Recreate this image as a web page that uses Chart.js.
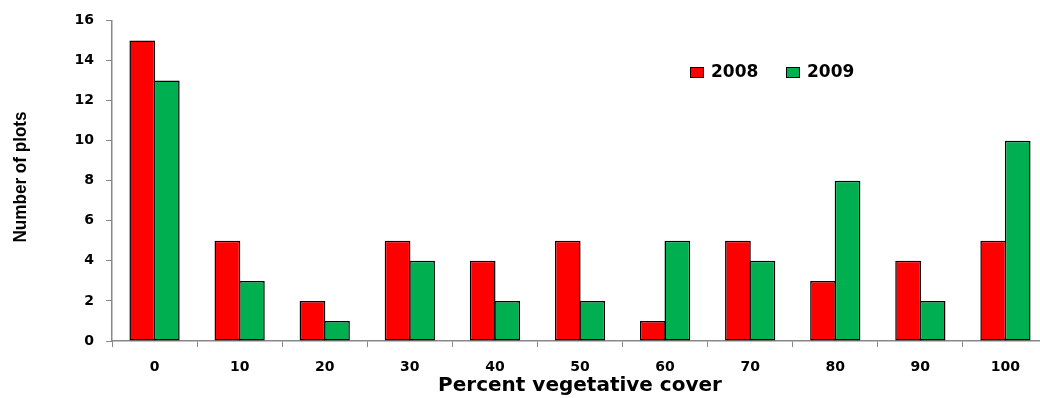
<!DOCTYPE html>
<html>
<head>
<meta charset="utf-8">
<script src="https://cdn.jsdelivr.net/npm/chart.js@4/dist/chart.umd.min.js"></script>
<style>
  html, body { margin: 0; padding: 0; background: #fff; overflow: hidden; }
  #wrap { width: 1048px; height: 398px; }
</style>
</head>
<body>
<div id="wrap"><canvas id="myChart" width="1048" height="398"></canvas></div>
<script>
// données
const categories = ['0', '10', '20', '30', '40', '50', '60', '70', '80', '90', '100'];
const plots2008 = [15, 5, 2, 5, 4, 5, 1, 5, 3, 4, 5];
const plots2009 = [13, 3, 1, 4, 2, 2, 5, 4, 8, 2, 10];
const yTicks = [0, 2, 4, 6, 8, 10, 12, 14, 16];

const fontTicks = { family: 'DejaVu Sans', weight: 'bold', size: 14 };

// légende + titre y (police étroite simulée) dessinés à la main
const extras = {
    id: 'extras',
    afterDraw(chart) {
        const ctx = chart.ctx;
        ctx.save();
        ctx.fillStyle = '#000';
        ctx.textAlign = 'center';
        ctx.textBaseline = 'middle';

        // titre de l'axe y
        ctx.translate(21, 177);
        ctx.rotate(-Math.PI / 2);
        ctx.scale(0.9, 1);
        ctx.font = 'bold 19px "Liberation Sans"';
        ctx.fillText('Number of plots', 0, 0);
        ctx.restore();

        // légende
        ctx.save();
        ctx.font = 'bold 17px "DejaVu Sans"';
        ctx.textBaseline = 'middle';
        ctx.textAlign = 'left';
        const xs = [690, 786];
        chart.data.datasets.forEach((ds, i) => {
            ctx.fillStyle = ds.backgroundColor;
            ctx.fillRect(xs[i], 67, 13, 10);
            ctx.strokeStyle = '#000';
            ctx.lineWidth = 1;
            ctx.strokeRect(xs[i] + 0.5, 67.5, 13, 10);
            ctx.fillStyle = '#000';
            ctx.fillText(ds.label, xs[i] + 21, 73);
        });
        ctx.restore();
    }
};

new Chart(document.getElementById('myChart'), {
    type: 'bar',
    data: {
        labels: categories,
        datasets: [
            { label: '2008', data: plots2008, backgroundColor: '#FF0000' },
            { label: '2009', data: plots2009, backgroundColor: '#00B050' }
        ]
    },
    options: {
        responsive: false,
        animation: false,
        layout: { padding: { top: 20, right: 0, left: 0, bottom: 0 } },
        datasets: {
            bar: {
                categoryPercentage: 0.576,
                barPercentage: 1.05,
                borderColor: '#000',
                borderWidth: 1.5,
                borderSkipped: false
            }
        },
        plugins: { legend: { display: false }, tooltip: { enabled: false } },
        scales: {
            x: {
                offset: true,
                grid: { display: true, drawOnChartArea: false, offset: true, tickLength: 6, color: '#888' },
                border: { color: '#888', width: 1.5 },
                ticks: { color: '#000', font: fontTicks, padding: 12 },
                title: {
                    display: true,
                    text: 'Percent vegetative cover',
                    color: '#000',
                    font: { family: 'DejaVu Sans', weight: 'bold', size: 20 },
                    padding: { top: 0, bottom: 0 }
                },
                afterFit: s => { s.height = 57; }
            },
            y: {
                min: 0,
                max: 16,
                afterBuildTicks: s => { s.ticks = yTicks.map(v => ({ value: v })); },
                grid: { display: true, drawOnChartArea: false, tickLength: 6, color: '#888' },
                border: { color: '#888', width: 1.5 },
                ticks: { color: '#000', font: fontTicks, padding: 12 },
                afterFit: s => { s.width = 112; }
            }
        }
    },
    plugins: [extras]
});
</script>
</body>
</html>
